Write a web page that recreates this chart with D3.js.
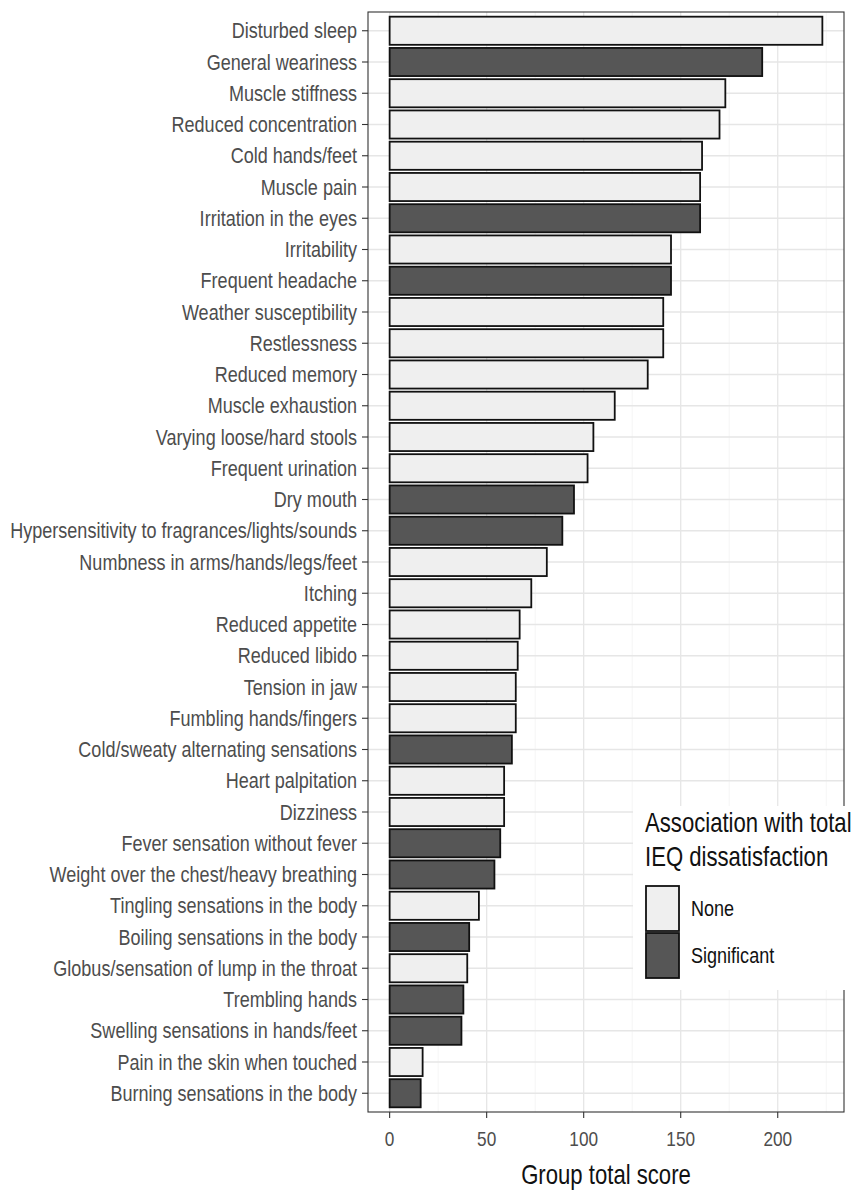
<!DOCTYPE html>
<html><head><meta charset="utf-8">
<script src="https://cdn.jsdelivr.net/npm/d3@7"></script>
<style>
html,body{margin:0;padding:0;background:#fff;}
svg text{font-family:"Liberation Sans",Arial,Helvetica,sans-serif;}
</style></head>
<body><svg id="c" width="854" height="1190"></svg>
<script>
const categories = ["Disturbed sleep","General weariness","Muscle stiffness","Reduced concentration","Cold hands/feet","Muscle pain","Irritation in the eyes","Irritability","Frequent headache","Weather susceptibility","Restlessness","Reduced memory","Muscle exhaustion","Varying loose/hard stools","Frequent urination","Dry mouth","Hypersensitivity to fragrances/lights/sounds","Numbness in arms/hands/legs/feet","Itching","Reduced appetite","Reduced libido","Tension in jaw","Fumbling hands/fingers","Cold/sweaty alternating sensations","Heart palpitation","Dizziness","Fever sensation without fever","Weight over the chest/heavy breathing","Tingling sensations in the body","Boiling sensations in the body","Globus/sensation of lump in the throat","Trembling hands","Swelling sensations in hands/feet","Pain in the skin when touched","Burning sensations in the body"];
const scores = [223,192,173,170,161,160,160,145,145,141,141,133,116,105,102,95,89,81,73,67,66,65,65,63,59,59,57,54,46,41,40,38,37,17,16];
const association = ["None","Significant","None","None","None","None","Significant","None","Significant","None","None","None","None","None","None","Significant","Significant","None","None","None","None","None","None","Significant","None","None","Significant","Significant","None","Significant","None","Significant","Significant","None","Significant"];
const legendLevels = ["None","Significant"];
const xTicks = [0,50,100,150,200];
const xMinor = [25,75,125,175,225];

(function(){
const SX = 0.82;
const svg = d3.select("#c");
const pL = 368, pR = 844, pT = 12, pB = 1112;
const maxV = d3.max(scores);
const x = d3.scaleLinear().domain([-0.05*maxV, 1.05*maxV]).range([pL, pR]);
const y = d3.scalePoint().domain(categories).range([pT, pB]).padding(0.6);
const fill = d3.scaleOrdinal().domain(legendLevels).range(["#efefef","#565656"]);
const data = categories.map((c,i)=>({c, v:scores[i], a:association[i]}));

svg.append("rect").attr("x",pL).attr("y",pT).attr("width",pR-pL).attr("height",pB-pT).attr("fill","#fff");
svg.append("g").selectAll("line").data(xMinor).join("line")
  .attr("x1",d=>x(d)).attr("x2",d=>x(d)).attr("y1",pT).attr("y2",pB)
  .attr("stroke","#f2f2f2").attr("stroke-width",0.8);
svg.append("g").selectAll("line").data(xTicks).join("line")
  .attr("x1",d=>x(d)).attr("x2",d=>x(d)).attr("y1",pT).attr("y2",pB)
  .attr("stroke","#e6e6e6").attr("stroke-width",1.3);
svg.append("g").selectAll("line").data(categories).join("line")
  .attr("x1",pL).attr("x2",pR).attr("y1",d=>y(d)).attr("y2",d=>y(d))
  .attr("stroke","#e6e6e6").attr("stroke-width",1.3);

const bh = y.step()*0.9;
svg.append("g").selectAll("rect").data(data).join("rect")
  .attr("x",x(0)).attr("y",d=>y(d.c)-bh/2)
  .attr("width",d=>x(d.v)-x(0)).attr("height",bh)
  .attr("fill",d=>fill(d.a)).attr("stroke","#111").attr("stroke-width",1.8);

svg.append("rect").attr("x",pL).attr("y",pT).attr("width",pR-pL).attr("height",pB-pT)
  .attr("fill","none").attr("stroke","#333").attr("stroke-width",1.1);

const yg = svg.append("g");
yg.selectAll("line").data(categories).join("line")
  .attr("x1",pL-6).attr("x2",pL).attr("y1",d=>y(d)).attr("y2",d=>y(d))
  .attr("stroke","#333").attr("stroke-width",1.1);
yg.selectAll("text").data(categories).join("text")
  .attr("transform",d=>`translate(${pL-11},${y(d)+7.5}) scale(${SX},1)`)
  .attr("text-anchor","end").attr("font-size",22).attr("fill","#4d4d4d").text(d=>d);

const xg = svg.append("g");
xg.selectAll("line").data(xTicks).join("line")
  .attr("x1",d=>x(d)).attr("x2",d=>x(d)).attr("y1",pB).attr("y2",pB+6)
  .attr("stroke","#333").attr("stroke-width",1.1);
xg.selectAll("text").data(xTicks).join("text")
  .attr("transform",d=>`translate(${x(d)},${pB+34}) scale(${SX},1)`)
  .attr("text-anchor","middle").attr("font-size",21).attr("fill","#4d4d4d").text(d=>d);
svg.append("text").attr("transform",`translate(${(pL+pR)/2},1184) scale(${SX},1)`)
  .attr("text-anchor","middle").attr("font-size",27).attr("fill","#111").text("Group total score");

const lg = svg.append("g");
lg.append("rect").attr("x",633).attr("y",806).attr("width",240).attr("height",184).attr("fill","#fff");
lg.append("text").attr("transform",`translate(645,832) scale(${SX},1)`).attr("font-size",27).attr("fill","#111").text("Association with total");
lg.append("text").attr("transform",`translate(645,866) scale(${SX},1)`).attr("font-size",27).attr("fill","#111").text("IEQ dissatisfaction");
legendLevels.forEach((l,i)=>{
  const ky = 886 + i*47;
  lg.append("rect").attr("x",646).attr("y",ky).attr("width",33).attr("height",45)
    .attr("fill",fill(l)).attr("stroke","#111").attr("stroke-width",1.8);
  lg.append("text").attr("transform",`translate(691,${ky+30}) scale(${SX},1)`)
    .attr("font-size",22).attr("fill","#111").text(l);
});
})();
</script></body></html>
